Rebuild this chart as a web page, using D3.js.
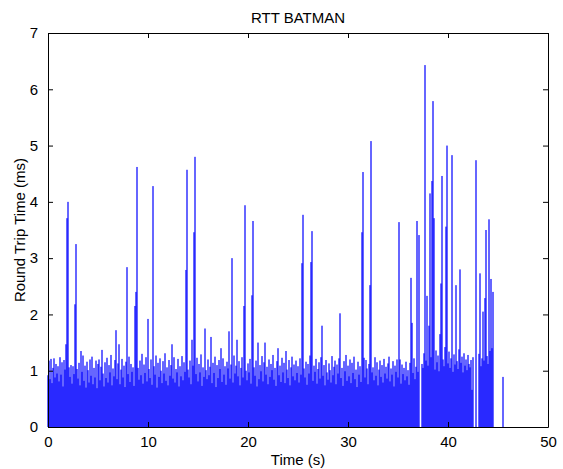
<!DOCTYPE html>
<html>
<head>
<meta charset="utf-8">
<script src="https://cdn.jsdelivr.net/npm/d3@7"></script>
<style>
  html, body { margin: 0; padding: 0; background: #fff; }
  text { font-family: "Liberation Sans", Arial, Helvetica, sans-serif; }
</style>
</head>
<body>
<svg id="chart" width="563" height="469"></svg>
<script>
// ---- data ----
const title = "RTT BATMAN";
const xLabel = "Time (s)";
const yLabel = "Round Trip Time (ms)";
const xTicks = [0, 10, 20, 30, 40, 50];
const yTicks = [0, 1, 2, 3, 4, 5, 6, 7];
const sampleInterval = 0.1; // seconds between pings
// RTT (ms) per ping, one row per second of the run; null = no reply
const rttRows = [
  [0.92,1.18,0.85,1.21,0.78,1.05,1.22,0.88,1.12,0.95],
  [1.08,0.81,1.24,0.93,1.15,0.72,1.19,1.02,1.47,3.71],
  [4.00,1.06,0.89,1.10,0.77,1.08,0.94,2.18,3.25,1.03],
  [0.86,1.14,0.74,1.35,0.98,1.27,0.82,1.09,0.70,1.16],
  [1.01,0.79,1.20,0.91,1.25,0.76,1.05,0.88,1.18,0.69],
  [1.12,1.20,0.83,1.07,1.37,0.95,0.72,1.15,0.87,1.23],
  [0.79,1.10,0.97,1.28,0.74,1.04,0.90,1.19,1.72,0.85],
  [1.13,1.47,0.76,1.02,1.21,0.88,1.09,0.71,1.16,2.84],
  [0.94,1.25,0.80,1.12,0.98,1.06,0.73,2.15,2.40,4.62],
  [1.05,0.84,1.18,0.92,1.30,0.77,1.11,0.96,1.24,0.81],
  [1.92,1.03,0.87,1.20,0.75,4.28,1.08,0.93,1.27,0.70],
  [1.14,0.89,1.22,1.00,0.78,1.17,0.95,1.31,0.82,1.06],
  [0.74,1.19,0.91,1.10,1.47,0.86,1.24,0.79,1.03,0.97],
  [1.21,0.72,1.08,0.90,1.26,0.83,1.15,0.98,2.79,4.57],
  [1.02,0.88,1.18,0.76,1.55,1.09,3.46,4.80,0.94,1.23],
  [0.81,1.12,0.97,1.29,0.73,1.06,0.89,1.75,1.01,0.85],
  [1.20,0.92,1.07,1.60,0.78,1.14,0.96,1.25,0.71,1.10],
  [0.87,1.19,1.03,1.40,0.80,1.22,0.93,1.08,0.75,1.16],
  [1.04,1.70,0.86,1.11,3.00,0.79,1.27,0.95,1.09,1.55],
  [0.90,1.17,0.74,1.05,1.24,0.88,2.15,3.94,1.00,0.83],
  [1.13,0.97,1.21,0.77,2.34,3.66,1.06,0.91,1.18,0.72],
  [1.50,0.85,1.10,0.99,1.26,0.81,1.15,1.50,0.93,1.07],
  [0.76,1.20,0.89,1.12,1.01,1.28,0.84,1.05,0.73,1.17],
  [1.40,0.92,1.09,0.80,1.23,0.97,1.14,0.78,1.35,1.02],
  [0.87,1.19,0.74,1.06,1.25,0.90,1.11,0.83,1.18,0.96],
  [1.08,0.79,1.22,0.93,2.91,3.77,1.04,0.88,1.16,0.75],
  [1.12,0.95,1.27,2.93,3.48,0.82,1.09,0.98,1.21,0.77],
  [1.03,1.15,0.86,1.24,1.80,0.91,1.10,0.74,1.19,0.97],
  [0.84,1.13,1.01,0.79,1.26,0.92,1.07,1.18,0.76,1.11],
  [0.95,1.22,2.02,0.87,1.05,0.73,1.17,0.99,1.28,0.82],
  [1.09,0.90,1.20,0.78,1.14,0.96,1.25,0.85,1.02,0.71],
  [1.16,0.93,1.08,0.80,3.46,4.53,1.23,0.88,1.19,1.04],
  [0.76,1.12,2.52,5.08,0.97,1.06,0.83,1.24,0.91,1.15],
  [0.74,1.02,1.18,0.89,1.10,0.79,1.21,0.95,1.07,0.86],
  [1.13,1.25,0.81,1.04,0.93,1.17,0.72,1.09,0.98,1.20],
  [0.88,3.64,1.20,0.77,1.11,0.94,1.05,0.83,1.16,0.90],
  [1.01,0.75,1.14,2.65,1.85,0.96,1.22,0.85,1.07,3.66],
  [0.98,3.41,null,null,1.12,1.05,1.31,6.43,1.18,2.33],
  [1.09,1.80,4.15,1.24,4.37,5.79,3.71,1.02,1.36,1.15],
  [1.27,0.99,1.65,2.55,4.46,1.20,1.08,1.42,3.56,5.00],
  [1.13,1.34,1.05,1.22,4.83,0.98,1.29,1.11,2.52,1.17],
  [1.03,1.38,2.80,1.14,1.25,0.97,1.31,1.09,1.20,1.01],
  [1.28,1.12,1.06,1.19,0.66,1.24,null,null,4.74,null],
  [null,1.30,2.73,1.08,1.22,2.05,1.18,2.29,3.50,1.26],
  [1.12,3.69,1.35,2.63,1.40,2.40,null,null,null,null],
  [null,null,null,null,null,0.89]
];

// ---- layout ----
const svg = d3.select("#chart");
const margin = { left: 48, right: 15, top: 33, bottom: 42 };
const W = 563, H = 469;
const x0 = margin.left, x1 = W - margin.right;
const y0 = H - margin.bottom, y1 = margin.top;
const FONT = "15px";

const x = d3.scaleLinear().domain([0, 50]).range([x0, x1]);
const y = d3.scaleLinear().domain([0, 7]).range([y0, y1]);

const samples = [];
rttRows.forEach((row, s) => row.forEach((v, k) => {
  if (v !== null) samples.push({ t: s + k * sampleInterval, v });
}));

const barW = 0.2; // seconds
const gBars = svg.append("g");
gBars.selectAll("rect").data(samples).join("rect")
  .attr("x", d => x(d.t - barW / 2))
  .attr("width", x(barW) - x(0))
  .attr("y", d => y(d.v))
  .attr("height", d => y(0) - y(d.v))
  .attr("fill", "#0000ff")
  .attr("fill-opacity", 0.6);

// ---- axes (box with inward ticks) ----
const tickLen = 5;
const fmt = d3.format("d");
const axB = d3.axisBottom(x).tickValues(xTicks).tickFormat(fmt).tickSizeInner(-tickLen).tickSizeOuter(0).tickPadding(9);
const axL = d3.axisLeft(y).tickValues(yTicks).tickFormat(fmt).tickSizeInner(-tickLen).tickSizeOuter(0).tickPadding(10);
const axT = d3.axisTop(x).tickValues(xTicks).tickSizeInner(-tickLen).tickSizeOuter(0).tickFormat("");
const axR = d3.axisRight(y).tickValues(yTicks).tickSizeInner(-tickLen).tickSizeOuter(0).tickFormat("");

function style(g) {
  g.selectAll("path").attr("stroke", "#000").attr("stroke-width", 1);
  g.selectAll("line").attr("stroke", "#000").attr("stroke-width", 1);
  g.selectAll("text").attr("fill", "#000").style("font-size", FONT)
    .style("font-family", '"Liberation Sans", Arial, Helvetica, sans-serif');
}
svg.append("g").attr("transform", `translate(0,${y0})`).call(axB).call(style);
svg.append("g").attr("transform", `translate(${x0},0)`).call(axL).call(style);
svg.append("g").attr("transform", `translate(0,${y1})`).call(axT).call(style);
svg.append("g").attr("transform", `translate(${x1},0)`).call(axR).call(style);

// ---- labels ----
svg.append("text").attr("x", (x0 + x1) / 2).attr("y", 23)
  .attr("text-anchor", "middle").style("font-size", FONT).text(title);
svg.append("text").attr("x", (x0 + x1) / 2).attr("y", 465)
  .attr("text-anchor", "middle").style("font-size", FONT).text(xLabel);
svg.append("text").attr("transform", `translate(25,${(y0 + y1) / 2}) rotate(-90)`)
  .attr("text-anchor", "middle").style("font-size", FONT).text(yLabel);
</script>
</body>
</html>
